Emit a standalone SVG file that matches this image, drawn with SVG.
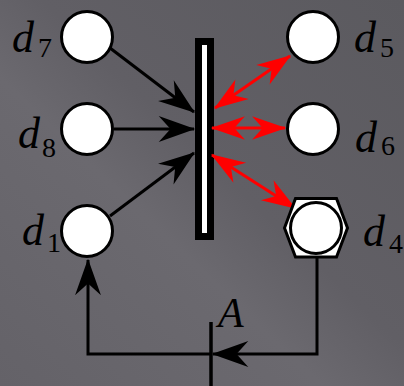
<svg xmlns="http://www.w3.org/2000/svg" width="404" height="386" viewBox="0 0 404 386">
<style>
.node{fill:#fff;stroke:#000;stroke-width:3}
.blk{stroke:#000;stroke-width:3;fill:none}
.red{stroke:#f00;stroke-width:3;fill:none}
.lbl{font-family:"Liberation Serif",serif;font-style:italic;font-size:44px;fill:#000}
.sub{font-family:"Liberation Serif",serif;font-size:28px;fill:#000}
</style>
<defs>
<linearGradient id="bg" x1="1" y1="0" x2="0" y2="1">
<stop offset="0" stop-color="#5b5a5f"/>
<stop offset="0.45" stop-color="#615f65"/>
<stop offset="0.6" stop-color="#6b696f"/>
<stop offset="1" stop-color="#646268"/>
</linearGradient>
<marker id="ab" markerUnits="userSpaceOnUse" markerWidth="40" markerHeight="30" viewBox="-32 -12 34 24" refX="0" refY="0" orient="auto">
<path d="M1,0 L-30,-11 L-20,0 L-30,11 Z" fill="#000"/>
</marker>
<marker id="ar" markerUnits="userSpaceOnUse" markerWidth="40" markerHeight="30" viewBox="-32 -12 34 24" refX="0" refY="0" orient="auto-start-reverse">
<path d="M1,0 L-28,-10 L-19,0 L-28,10 Z" fill="#f00"/>
</marker>
</defs>
<rect width="404" height="386" fill="url(#bg)"/>

<g id="bar">
<rect x="195" y="38" width="19" height="202" fill="#000"/>
<rect x="202" y="45" width="5" height="188" fill="#fff"/>
</g>

<g id="connectors">
<path class="blk" d="M110,48 L194,112" marker-end="url(#ab)"/>
<path class="blk" d="M114,129 L194,129" marker-end="url(#ab)"/>
<path class="blk" d="M110,216 L194,153" marker-end="url(#ab)"/>
<path class="red" d="M215,108 L290,56" marker-start="url(#ar)" marker-end="url(#ar)"/>
<path class="red" d="M212,128 L285,128" marker-start="url(#ar)" marker-end="url(#ar)"/>
<path class="red" d="M212,155 L295,208" marker-start="url(#ar)" marker-end="url(#ar)"/>
<path class="blk" d="M317,258 L317,354 L213,354" marker-end="url(#ab)"/>
<path class="blk" d="M211,354 L88,354 L88,260" marker-end="url(#ab)"/>
<path d="M211,322 L211,386" stroke="#000" stroke-width="3.5"/>
</g>

<g id="d7"><circle class="node" cx="87" cy="37" r="25.5"/><text class="lbl" x="12" y="52">d</text><text class="sub" x="38" y="57">7</text></g>
<g id="d8"><circle class="node" cx="87" cy="129" r="25.5"/><text class="lbl" x="18" y="148">d</text><text class="sub" x="42" y="157">8</text></g>
<g id="d1"><circle class="node" cx="87" cy="231" r="25.5"/><text class="lbl" x="22" y="245">d</text><text class="sub" x="47" y="252">1</text></g>
<g id="d5"><circle class="node" cx="313" cy="37" r="25.5"/><text class="lbl" x="354" y="52">d</text><text class="sub" x="380" y="57">5</text></g>
<g id="d6"><circle class="node" cx="313" cy="129" r="25.5"/><text class="lbl" x="355" y="152">d</text><text class="sub" x="381" y="155">6</text></g>
<g id="d4"><polygon class="node" points="284.5,228 295.5,198.5 336.5,198.5 347.5,228 336.5,257 295.5,257"/><circle class="node" cx="316" cy="228" r="25.5"/><text class="lbl" x="363" y="246">d</text><text class="sub" x="389" y="253">4</text></g>
<g id="A"><text class="lbl" x="218" y="327" style="font-size:42px">A</text></g>
</svg>
